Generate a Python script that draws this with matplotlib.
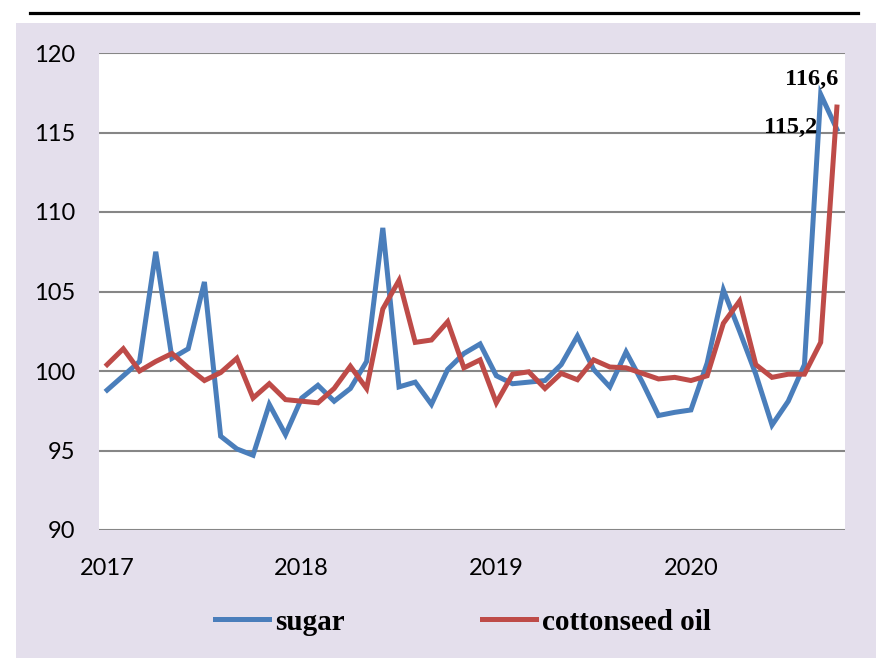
import matplotlib.pyplot as plt
from matplotlib.lines import Line2D
from matplotlib.patches import Rectangle
import numpy as np

# monthly index values, Jan 2017 .. Oct 2020
sugar = [98.8, 99.7, 100.6, 107.5, 100.8, 101.4, 105.6, 95.9, 95.1, 94.7,
         97.9, 96.0, 98.3, 99.1, 98.1, 98.9, 100.6, 109.0, 99.0, 99.3,
         97.9, 100.1, 101.1, 101.7, 99.7, 99.2, 99.3, 99.4, 100.4, 102.2,
         100.1, 99.0, 101.2, 99.3, 97.2, 97.4, 97.55, 100.5, 105.1, 102.5,
         99.8, 96.6, 98.1, 100.4, 117.4, 115.2]
cottonseed_oil = [100.4, 101.4, 100.0, 100.6, 101.1, 100.2, 99.4, 99.9, 100.8, 98.3,
                  99.2, 98.2, 98.1, 98.0, 98.9, 100.3, 98.9, 103.9, 105.7, 101.8,
                  101.95, 103.1, 100.2, 100.7, 98.0, 99.8, 99.95, 98.9, 99.85, 99.45,
                  100.7, 100.25, 100.2, 99.85, 99.5, 99.6, 99.4, 99.7, 103.0, 104.4,
                  100.4, 99.6, 99.8, 99.8, 101.8, 116.6]
year_labels = ['2017', '2018', '2019', '2020']
series_names = ['sugar', 'cottonseed oil']

W, H = 885, 658
fig = plt.figure(figsize=(W / 100, H / 100), dpi=100, facecolor='white')

# lavender panel and the black rule above it
fig.patches.append(Rectangle((16 / W, 0), 860 / W, 1 - 23 / H,
                             transform=fig.transFigure, facecolor='#E4DFEC',
                             edgecolor='none', zorder=-5))
fig.lines.append(Line2D([30 / W, 858 / W], [1 - 12.5 / H, 1 - 12.5 / H],
                        transform=fig.transFigure, color='black', linewidth=2.3))

ax = fig.add_axes([99 / W, 1 - 530 / H, 746 / W, 477 / H])
ax.set_zorder(2)
ax.set_facecolor('white')

x = np.arange(len(sugar))
ax.plot(x, sugar, color='#4A7EBB', linewidth=3.6, label=series_names[0],
        solid_joinstyle='miter', zorder=3)
ax.plot(x, cottonseed_oil, color='#BE4B48', linewidth=3.6, label=series_names[1],
        solid_joinstyle='miter', zorder=3)

ax.set_xlim(-0.5, len(sugar) - 0.5)
ax.set_ylim(90, 120)
ax.set_yticks(np.arange(90, 121, 5))
ax.set_xticks([0, 12, 24, 36])
ax.set_xticklabels(year_labels)
ax.grid(axis='y', color='#868686', linewidth=1.5, zorder=1)
ax.tick_params(length=0, labelsize=17)
ax.tick_params(axis='y', pad=17)
ax.tick_params(axis='x', pad=20)
for lbl in ax.get_xticklabels() + ax.get_yticklabels():
    lbl.set_fontfamily('Lato')
for sp in ax.spines.values():
    sp.set_visible(False)

# value labels on the last points
serif_bold = dict(fontfamily='Liberation Serif', fontweight='bold', fontsize=17.5)
ax.annotate('116,6', xy=(x[-1], cottonseed_oil[-1]), xytext=(1, 20),
            textcoords='offset points', ha='right', va='center', **serif_bold)
ax.annotate('115,2', xy=(x[-1], sugar[-1]), xytext=(-14, 1),
            textcoords='offset points', ha='right', va='center', **serif_bold)

fig.legend(loc='center', bbox_to_anchor=(463 / W, 36 / H), ncol=2,
           frameon=False, handlelength=1.86, handletextpad=0.2,
           columnspacing=4.7,
           prop={'family': 'Liberation Serif', 'weight': 'bold', 'size': 21})

plt.savefig('out.png', dpi=100, facecolor='white')
